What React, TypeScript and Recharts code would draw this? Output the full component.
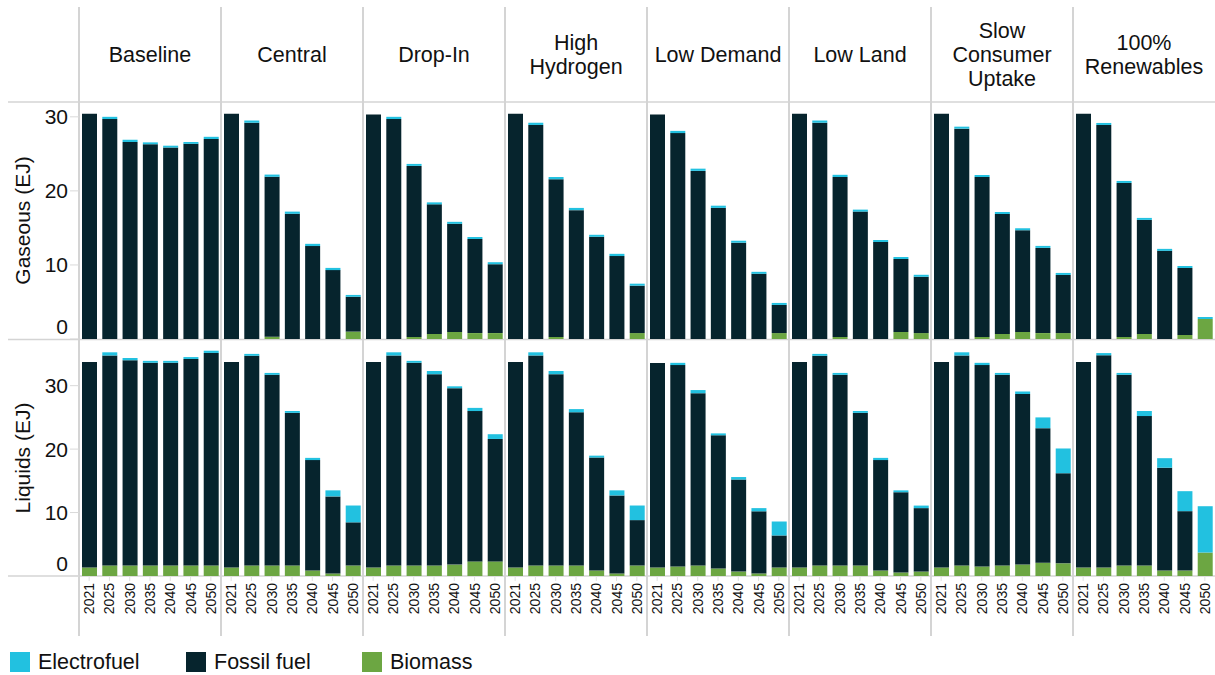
import React from 'react';
import { BarChart, Bar, XAxis, YAxis } from 'recharts';

const FONT = '"Liberation Sans", Arial, Helvetica, sans-serif';

const scenarios = [
  'Baseline',
  'Central',
  'Drop-In',
  'High\nHydrogen',
  'Low Demand',
  'Low Land',
  'Slow\nConsumer\nUptake',
  '100%\nRenewables',
];
const years = ['2021', '2025', '2030', '2035', '2040', '2045', '2050'];

// Gaseous (EJ), one row per scenario
const gasElectrofuel = [
  [0, 0.3, 0.3, 0.25, 0.25, 0.25, 0.3],
  [0, 0.3, 0.3, 0.3, 0.3, 0.3, 0.25],
  [0, 0.3, 0.27, 0.27, 0.27, 0.27, 0.27],
  [0, 0.3, 0.3, 0.3, 0.27, 0.3, 0.27],
  [0, 0.3, 0.3, 0.3, 0.27, 0.27, 0.27],
  [0, 0.3, 0.3, 0.27, 0.27, 0.27, 0.27],
  [0, 0.27, 0.27, 0.27, 0.27, 0.27, 0.27],
  [0, 0.27, 0.27, 0.27, 0.27, 0.27, 0.27],
];
const gasFossil = [
  [30.4, 29.7, 26.6, 26.3, 25.85, 26.35, 27.0],
  [30.4, 29.2, 21.6, 16.9, 12.55, 9.3, 4.7],
  [30.3, 29.7, 23.1, 17.5, 14.6, 12.7, 9.3],
  [30.4, 28.9, 21.3, 17.4, 13.8, 11.2, 6.4],
  [30.3, 27.8, 22.7, 17.7, 13.0, 8.8, 3.8],
  [30.4, 29.2, 21.6, 17.2, 13.1, 9.85, 7.6],
  [30.4, 28.4, 21.6, 16.2, 13.75, 11.5, 7.85],
  [30.4, 28.9, 20.8, 15.4, 11.9, 9.05, 0],
];
const gasBiomass = [
  [0, 0, 0, 0, 0, 0, 0],
  [0, 0, 0.3, 0, 0, 0, 1.0],
  [0, 0, 0.27, 0.68, 0.95, 0.8, 0.8],
  [0, 0, 0.27, 0, 0, 0, 0.8],
  [0, 0, 0, 0, 0, 0, 0.8],
  [0, 0, 0.27, 0, 0, 0.95, 0.8],
  [0, 0, 0.27, 0.68, 0.95, 0.8, 0.8],
  [0, 0, 0.27, 0.68, 0, 0.54, 2.7],
];

// Liquids (EJ)
const liqElectrofuel = [
  [0, 0.5, 0.35, 0.3, 0.3, 0.3, 0.35],
  [0, 0.3, 0.3, 0.3, 0.35, 0.95, 2.65],
  [0, 0.5, 0.3, 0.5, 0.3, 0.5, 0.75],
  [0, 0.5, 0.5, 0.5, 0.3, 0.8, 2.3],
  [0, 0.35, 0.5, 0.3, 0.4, 0.5, 2.2],
  [0, 0.3, 0.3, 0.3, 0.35, 0.3, 0.4],
  [0, 0.5, 0.35, 0.3, 0.4, 1.7, 3.9],
  [0, 0.35, 0.3, 0.8, 1.5, 3.15, 7.3],
];
const liqFossil = [
  [32.4, 33.1, 32.35, 31.95, 31.95, 32.55, 33.5],
  [32.4, 33.05, 30.05, 24.05, 17.4, 12.15, 6.8],
  [32.4, 33.1, 31.95, 30.15, 27.8, 23.7, 19.3],
  [32.4, 33.1, 30.15, 24.15, 17.8, 12.3, 7.15],
  [32.25, 31.75, 27.15, 21.0, 14.5, 9.8, 5.05],
  [32.4, 33.05, 30.05, 24.05, 17.4, 12.65, 10.0],
  [32.4, 33.1, 31.75, 30.05, 26.9, 21.2, 14.2],
  [32.4, 33.45, 30.05, 23.55, 16.2, 9.35, 0],
];
const liqBiomass = [
  [1.34, 1.66, 1.66, 1.66, 1.66, 1.66, 1.66],
  [1.34, 1.66, 1.66, 1.66, 0.87, 0.4, 1.66],
  [1.34, 1.66, 1.66, 1.66, 1.8, 2.3, 2.3],
  [1.34, 1.66, 1.66, 1.66, 0.87, 0.4, 1.66],
  [1.34, 1.5, 1.66, 1.18, 0.7, 0.4, 1.34],
  [1.34, 1.66, 1.66, 1.66, 0.87, 0.55, 0.7],
  [1.34, 1.66, 1.5, 1.66, 1.8, 2.1, 2.0],
  [1.34, 1.34, 1.66, 1.66, 0.87, 0.87, 3.7],
];

const yTicks = [0, 10, 20, 30];

const series = [
  { key: 'Biomass', color: '#6CA642' },
  { key: 'Fossil fuel', color: '#06242D' },
  { key: 'Electrofuel', color: '#22C1E0' },
];
const legendOrder = ['Electrofuel', 'Fossil fuel', 'Biomass'];

const GRID = '#d4d4d4';
const W = 1215;
const AXIS_W = 79;
const PANEL_W = 142;

const buildRows = (bio: number[][], fossil: number[][], electro: number[][]) =>
  scenarios.flatMap((_, si) =>
    years.map((yr, yi) => ({
      key: `${si}|${yr}`,
      Biomass: bio[si][yi],
      'Fossil fuel': fossil[si][yi],
      Electrofuel: electro[si][yi],
    }))
  );

const gasRows = buildRows(gasBiomass, gasFossil, gasElectrofuel);
const liqRows = buildRows(liqBiomass, liqFossil, liqElectrofuel);

const YTick = (props: any) => {
  const { x, y, payload } = props;
  // the zero label sits a bit higher than its tick
  const shift = payload.value === 0 ? -12 : 0;
  return (
    <text x={x} y={y + shift} dy="0.355em" textAnchor="end" fontSize={21} fontFamily={FONT} fill="#111">
      {payload.value}
    </text>
  );
};

const XTick = (props: any) => {
  const { x, y, payload } = props;
  const year = String(payload.value).split('|')[1];
  return (
    <text
      x={x}
      y={y}
      transform={`rotate(-90, ${x}, ${y})`}
      textAnchor="end"
      dominantBaseline="central"
      fontSize={14}
      fontFamily={FONT}
      fill="#111"
    >
      {year}
    </text>
  );
};

const axisTitle = (text: string, cy: number) => () =>
  (
    <text
      x={22}
      y={cy}
      transform={`rotate(-90, 22, ${cy})`}
      textAnchor="middle"
      dominantBaseline="central"
      fontSize={21}
      fontFamily={FONT}
      fill="#111"
    >
      {text}
    </text>
  );

const renderBars = () =>
  series.map((s) => (
    <Bar key={s.key} dataKey={s.key} stackId="a" fill={s.color} barSize={15} isAnimationActive={false} />
  ));

export default function App() {
  const panelXs = scenarios.map((_, i) => AXIS_W + PANEL_W * i);
  return (
    <div
      style={{
        position: 'absolute',
        left: 0,
        top: 0,
        width: W,
        height: 675,
        background: '#fff',
        fontFamily: FONT,
        color: '#111',
        overflow: 'hidden',
      }}
    >
      <svg width={W} height={675} style={{ position: 'absolute', left: 0, top: 0 }}>
        {panelXs.map((x) => (
          <line key={x} x1={x} x2={x} y1={7} y2={636} stroke={GRID} strokeWidth={2} />
        ))}
        {[102, 339.5, 576].map((y) => (
          <line key={y} x1={8} x2={W} y1={y} y2={y} stroke={GRID} strokeWidth={1.5} />
        ))}
      </svg>

      {scenarios.map((s, i) => (
        <div
          key={s}
          style={{
            position: 'absolute',
            left: panelXs[i],
            top: 7,
            width: PANEL_W,
            height: 96,
            display: 'flex',
            flexDirection: 'column',
            alignItems: 'center',
            justifyContent: 'center',
            fontSize: 21.5,
            lineHeight: '24px',
            textAlign: 'center',
          }}
        >
          {s.split('\n').map((line) => (
            <div key={line}>{line}</div>
          ))}
        </div>
      ))}

      <div style={{ position: 'absolute', left: 0, top: 102 }}>
        <BarChart width={W} height={237} data={gasRows} margin={{ top: 0, right: 0, bottom: 0, left: 0 }}>
          <XAxis dataKey="key" hide />
          <YAxis
            width={AXIS_W}
            domain={[0, 32]}
            ticks={yTicks}
            interval={0}
            axisLine={false}
            tickLine={{ stroke: '#d9d9d9' }}
            tickSize={9}
            tick={<YTick />}
            label={{ value: 'Gaseous (EJ)', content: axisTitle('Gaseous (EJ)', 118.5) }}
          />
          {renderBars()}
        </BarChart>
      </div>

      <div style={{ position: 'absolute', left: 0, top: 340 }}>
        <BarChart width={W} height={296} data={liqRows} margin={{ top: 0, right: 0, bottom: 0, left: 0 }}>
          <XAxis
            dataKey="key"
            height={60}
            interval={0}
            axisLine={false}
            tickLine={{ stroke: '#e2e2e2' }}
            tickSize={5}
            tick={<XTick />}
          />
          <YAxis
            width={AXIS_W}
            domain={[0, 37.2]}
            ticks={yTicks}
            interval={0}
            axisLine={false}
            tickLine={{ stroke: '#d9d9d9' }}
            tickSize={9}
            tick={<YTick />}
            label={{ value: 'Liquids (EJ)', content: axisTitle('Liquids (EJ)', 118) }}
          />
          {renderBars()}
        </BarChart>
      </div>

      {legendOrder.map((name, i) => {
        const s = series.find((d) => d.key === name)!;
        const left = 10 + i * 176;
        return (
          <div key={name} style={{ position: 'absolute', left, top: 651, display: 'flex', alignItems: 'center' }}>
            <div style={{ width: 20, height: 20, background: s.color }} />
            <div style={{ marginLeft: 8, fontSize: 21.5, lineHeight: '22px' }}>{name}</div>
          </div>
        );
      })}
    </div>
  );
}
